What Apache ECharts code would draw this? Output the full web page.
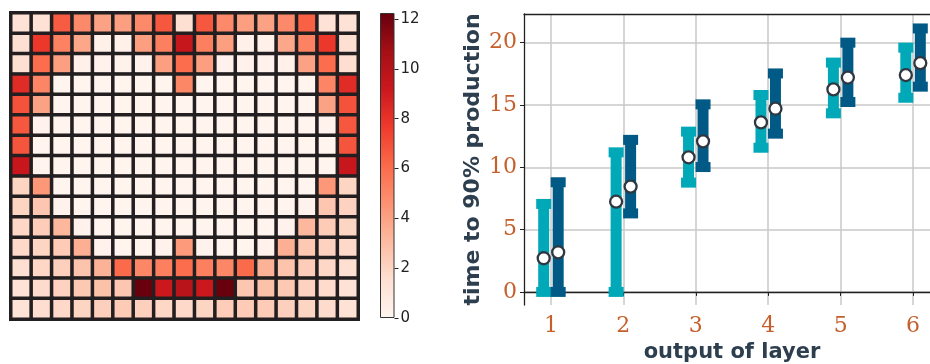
<!DOCTYPE html>
<html>
<head>
<meta charset="utf-8">
<script src="https://cdn.jsdelivr.net/npm/echarts@6/dist/echarts.min.js"></script>
<style>
  html, body { margin: 0; padding: 0; background: #fff; }
  #chart { width: 930px; height: 364px; }
</style>
</head>
<body>
<div id="chart"></div>
<script>
// heatmap cells, top row first, 17 columns each
const heatRows = [
  [1.4, 1.4, 6.6, 4.9, 4.0, 4.1, 4.9, 6.7, 1.5, 6.7, 4.9, 4.1, 4.0, 4.9, 6.4, 1.4, 1.4],
  [1.5, 7.8, 5.2, 3.8, 0.3, 0.3, 4.1, 5.3, 9.4, 5.3, 4.1, 0.3, 0.3, 3.8, 5.2, 7.8, 1.5],
  [1.5, 6.0, 4.1, 0.3, 0.2, 0.2, 0.2, 4.1, 6.0, 4.1, 0.2, 0.2, 0.2, 0.3, 4.0, 6.0, 1.6],
  [8.3, 5.1, 0.1, 0.1, 0.1, 0.1, 0.1, 0.1, 5.0, 0.1, 0.1, 0.1, 0.1, 0.1, 0.1, 5.1, 8.3],
  [6.9, 4.0, 0.1, 0.1, 0.1, 0.1, 0.1, 0.1, 0.1, 0.1, 0.1, 0.1, 0.1, 0.1, 0.1, 4.0, 6.9],
  [6.7, 0.2, 0.1, 0.1, 0.1, 0.1, 0.1, 0.1, 0.1, 0.1, 0.1, 0.1, 0.1, 0.1, 0.1, 0.2, 6.7],
  [6.8, 0.1, 0.1, 0.1, 0.1, 0.1, 0.1, 0.1, 0.1, 0.1, 0.1, 0.1, 0.1, 0.1, 0.1, 0.1, 6.8],
  [9.3, 0.1, 0.1, 0.1, 0.1, 0.1, 0.1, 0.1, 0.1, 0.1, 0.1, 0.1, 0.1, 0.1, 0.1, 0.1, 9.3],
  [2.0, 4.4, 0.1, 0.1, 0.1, 0.1, 0.1, 0.1, 0.1, 0.1, 0.1, 0.1, 0.1, 0.1, 0.1, 4.4, 2.0],
  [2.0, 2.6, 0.2, 0.1, 0.1, 0.1, 0.1, 0.1, 0.1, 0.1, 0.1, 0.1, 0.1, 0.1, 0.2, 2.6, 2.1],
  [1.9, 2.3, 3.2, 0.2, 0.1, 0.1, 0.1, 0.1, 0.1, 0.1, 0.1, 0.1, 0.1, 0.2, 3.2, 2.4, 2.0],
  [1.8, 2.0, 2.4, 3.5, 0.2, 0.1, 0.1, 0.2, 4.3, 0.2, 0.1, 0.1, 0.2, 3.5, 2.5, 2.1, 1.8],
  [1.5, 1.9, 2.2, 2.7, 3.4, 6.1, 5.0, 5.3, 6.0, 5.3, 5.0, 6.1, 3.4, 2.7, 2.3, 1.9, 1.5],
  [1.4, 1.7, 2.1, 2.5, 2.8, 2.6, 12.2, 9.2, 9.9, 9.2, 12.2, 2.6, 2.8, 2.5, 2.1, 1.7, 1.4],
  [1.3, 1.6, 1.8, 2.0, 2.2, 2.4, 2.2, 1.9, 1.8, 2.0, 2.3, 2.4, 2.4, 2.2, 2.0, 1.7, 1.4],
];
const colorMax = 12.24;
const colorTicks = [0, 2, 4, 6, 8, 10, 12];

// error bar panel
const layers = [1, 2, 3, 4, 5, 6];
const lightMid = [2.7, 7.24, 10.8, 13.6, 16.25, 17.4];
const lightLow = [0, 0, 8.77, 11.57, 14.33, 15.58];
const lightHigh = [7.06, 11.2, 12.86, 15.8, 18.4, 19.6];
const darkMid = [3.18, 8.45, 12.08, 14.7, 17.2, 18.36];
const darkLow = [0, 6.3, 10.02, 12.7, 15.24, 16.47];
const darkHigh = [8.8, 12.2, 15.05, 17.53, 20.0, 21.14];
const yTicks = [0, 5, 10, 15, 20];

const reds = ["#fff5f0", "#fee0d2", "#fcbba1", "#fc9272", "#fb6a4a", "#ef3b2c", "#cb181d", "#a50f15", "#67000d"];
const LIGHT = "#00a8b8";
const DARK = "#005a85";
const TICK_COLOR = "#c5602d";
const LABEL_COLOR = "#2d3e4e";
const SPINE = "#222222";
const OFFSET = 0.1;

const heatData = [];
heatRows.forEach((row, r) => row.forEach((v, c) => heatData.push([c, r, v])));

const barData = (lo, hi, dx) => layers.map((l, i) => [l + dx, lo[i], hi[i]]);
const midData = (mid, dx) => layers.map((l, i) => [l + dx, mid[i]]);

const renderErrorBar = (params, api) => {
  const x = api.value(0);
  const pLo = api.coord([x, api.value(1)]);
  const pHi = api.coord([x, api.value(2)]);
  const color = api.visual("color");
  const style = { fill: color };
  return {
    type: "group",
    children: [
      { type: "rect", shape: { x: pLo[0] - 5.5, y: pHi[1], width: 11, height: pLo[1] - pHi[1] }, style },
      { type: "rect", shape: { x: pLo[0] - 7.5, y: pHi[1] - 5, width: 15, height: 10 }, style },
      { type: "rect", shape: { x: pLo[0] - 7.5, y: pLo[1] - 5, width: 15, height: 10 }, style },
    ],
  };
};

const gradientStops = reds.map((c, i) => ({ offset: i / (reds.length - 1), color: c }));

const chart = echarts.init(document.getElementById("chart"), null, { renderer: "canvas" });

const option = {
  animation: false,
  backgroundColor: "#fff",
  grid: [
    { left: 11, top: 13, width: 347, height: 306, show: true, borderColor: "#231f20", borderWidth: 2, backgroundColor: "#231f20", outerBoundsMode: "none" },
    { left: 380, top: 13, width: 14.5, height: 305, outerBoundsMode: "none" },
    { left: 524, top: 14, right: -10, bottom: 59, outerBoundsMode: "none" },
  ],
  xAxis: [
    { type: "category", gridIndex: 0, data: heatRows[0].map((_, i) => i), show: false },
    { type: "category", gridIndex: 1, data: ["cb"], show: false },
    {
      type: "value", gridIndex: 2, min: 0.628, max: 6.372,
      axisLine: { lineStyle: { color: SPINE, width: 1.3 } },
      axisTick: { show: true, length: 4, customValues: layers, lineStyle: { color: SPINE, width: 1 } },
      axisLabel: {
        customValues: layers, margin: 10, color: TICK_COLOR,
        fontFamily: "DejaVu Serif", fontSize: 22,
      },
      splitLine: { show: true, lineStyle: { color: "#c8c8c8", width: 1.5 } },
      name: "output of layer", nameLocation: "middle", nameGap: 35,
      nameTextStyle: { color: LABEL_COLOR, fontFamily: "DejaVu Sans", fontWeight: "bold", fontSize: 21 },
    },
    {
      type: "value", gridIndex: 2, position: "top", min: 0.628, max: 6.372,
      axisLine: { show: true, lineStyle: { color: SPINE, width: 1.3 } },
      axisTick: { show: false }, axisLabel: { show: false }, splitLine: { show: false },
    },
  ],
  yAxis: [
    { type: "category", gridIndex: 0, data: heatRows.map((_, i) => i), inverse: true, show: false },
    {
      type: "value", gridIndex: 1, min: 0, max: colorMax, position: "right",
      axisLine: { show: false },
      axisTick: { show: true, length: 4, customValues: colorTicks, lineStyle: { color: SPINE, width: 1 } },
      axisLabel: { customValues: colorTicks, margin: 6, color: "#222", fontFamily: "DejaVu Sans", fontSize: 15 },
      splitLine: { show: false },
    },
    {
      type: "value", gridIndex: 2, min: -1.05, max: 22.3,
      axisLine: { show: true, lineStyle: { color: SPINE, width: 1.3 } },
      axisTick: { show: true, length: 4, customValues: yTicks, lineStyle: { color: SPINE, width: 1 } },
      axisLabel: {
        customValues: yTicks, margin: 7, color: TICK_COLOR,
        fontFamily: "DejaVu Serif", fontSize: 22,
      },
      splitLine: { show: true, lineStyle: { color: "#c8c8c8", width: 1.5 } },
      name: "time to 90% production", nameLocation: "middle", nameGap: 40,
      nameTextStyle: { color: LABEL_COLOR, fontFamily: "DejaVu Sans", fontWeight: "bold", fontSize: 22 },
    },
  ],
  visualMap: {
    show: false, min: 0, max: colorMax, seriesIndex: 0, dimension: 2,
    inRange: { color: reds },
  },
  series: [
    {
      type: "heatmap", xAxisIndex: 0, yAxisIndex: 0, data: heatData,
      itemStyle: { borderColor: "#231f20", borderWidth: 3.5 },
      emphasis: { disabled: true },
    },
    {
      type: "bar", xAxisIndex: 1, yAxisIndex: 1, data: [colorMax], barWidth: "100%",
      itemStyle: {
        color: new echarts.graphic.LinearGradient(0, 1, 0, 0, gradientStops),
        borderColor: "#333", borderWidth: 1,
      },
      silent: true,
    },
    {
      type: "custom", xAxisIndex: 2, yAxisIndex: 2, renderItem: renderErrorBar,
      data: barData(lightLow, lightHigh, -OFFSET), encode: { x: 0, y: [1, 2] },
      itemStyle: { color: LIGHT }, z: 3,
    },
    {
      type: "custom", xAxisIndex: 2, yAxisIndex: 2, renderItem: renderErrorBar,
      data: barData(darkLow, darkHigh, OFFSET), encode: { x: 0, y: [1, 2] },
      itemStyle: { color: DARK }, z: 3,
    },
    {
      type: "scatter", xAxisIndex: 2, yAxisIndex: 2, data: midData(lightMid, -OFFSET),
      symbolSize: 12, itemStyle: { color: "#fff", borderColor: "#2f3740", borderWidth: 2.3, opacity: 1 }, z: 4,
    },
    {
      type: "scatter", xAxisIndex: 2, yAxisIndex: 2, data: midData(darkMid, OFFSET),
      symbolSize: 12, itemStyle: { color: "#fff", borderColor: "#2f3740", borderWidth: 2.3, opacity: 1 }, z: 4,
    },
  ],
};

chart.setOption(option);
</script>
</body>
</html>
